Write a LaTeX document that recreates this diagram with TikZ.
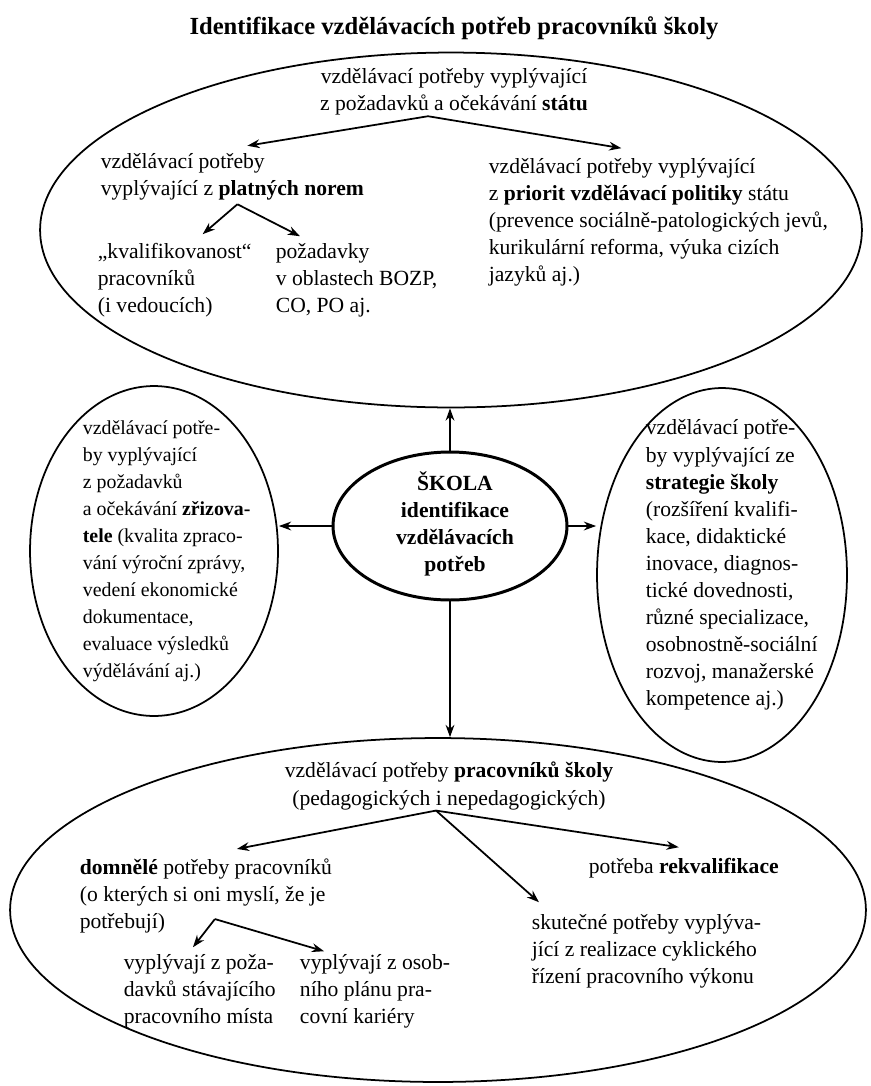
\documentclass[tikz,border=0pt]{standalone}
\usepackage{fontspec}
\setmainfont{Liberation Serif}
\usetikzlibrary{arrows.meta,positioning,shapes.geometric}

\begin{document}
\begin{tikzpicture}[
  x=0.02cm, y=-0.02cm,
  >={Stealth[length=7pt,width=5pt]},
  line width=1pt,
  oval/.style={ellipse, draw, line width=1pt, inner sep=0pt},
  hub/.style={ellipse, draw, line width=1.7pt, inner sep=0pt},
  note/.style={inner sep=0pt, align=left, anchor=west, font=\fontsize{12.3}{15.4}\selectfont},
  heading/.style={inner sep=0pt, align=center, font=\fontsize{12.3}{15.4}\selectfont},
  flow/.style={->, line width=1pt}
]
  \useasboundingbox (0,0) rectangle (870,1086);

  % title
  \node[inner sep=0pt, font=\fontsize{14}{17}\selectfont\bfseries] (title) at (454,28)
    {Identifikace vzdělávacích potřeb pracovníků školy};

  % ovals
  \node[oval, minimum width=16.44cm, minimum height=7.1cm] (stateOval) at (451,230) {};
  \node[oval, minimum width=4.96cm, minimum height=6.6cm] (founderOval) at (154,551) {};
  \node[hub, minimum width=4.68cm, minimum height=2.96cm] (hub) at (450,526) {};
  \node[oval, minimum width=5.0cm, minimum height=7.48cm] (strategyOval) at (722,575) {};
  \node[oval, minimum width=17.12cm, minimum height=6.88cm] (staffOval) at (438,910) {};

  % state
  \node[heading] (stateTop) at (454,92)
    {vzdělávací potřeby vyplývající\\z požadavků a očekávání \textbf{státu}};
  \node[note] (norms) at (100,177)
    {vzdělávací potřeby\\vyplývající z \textbf{platných norem}};
  \node[note] (qual) at (97,280)
    {„kvalifikovanost“\\pracovníků\\(i vedoucích)};
  \node[note] (bozp) at (275,280)
    {požadavky\\v oblastech BOZP,\\CO, PO aj.};
  \node[note] (polit) at (488,222)
    {vzdělávací potřeby vyplývající\\z \textbf{priorit vzdělávací politiky} státu\\(prevence sociálně-patologických jevů,\\kurikulární reforma, výuka cizích\\jazyků aj.)};

  % founder, school, strategy
  \node[note, font=\fontsize{11.3}{15.4}\selectfont] (founder) at (82,551)
    {vzdělávací potře-\\by vyplývající\\z požadavků\\a očekávání \textbf{zřizova-}\\\textbf{tele} (kvalita zpraco-\\vání výroční zprávy,\\vedení ekonomické\\dokumentace,\\evaluace výsledků\\výdělávání aj.)};
  \node[heading] (skola) at (455,524)
    {\textbf{ŠKOLA}\\\textbf{identifikace}\\\textbf{vzdělávacích}\\\textbf{potřeb}};
  \node[note] (strategy) at (645,565)
    {vzdělávací potře-\\by vyplývající ze\\\textbf{strategie školy}\\(rozšíření kvalifi-\\kace, didaktické\\inovace, diagnos-\\tické dovednosti,\\různé specializace,\\osobnostně-sociální\\rozvoj, manažerské\\kompetence aj.)};

  % staff
  \node[heading] (staff) at (449,786)
    {vzdělávací potřeby \textbf{pracovníků školy}\\(pedagogických i nepedagogických)};
  \node[note] (assumed) at (79,896)
    {\textbf{domnělé} potřeby pracovníků\\(o kterých si oni myslí, že je\\potřebují)};
  \node[note] (place) at (123,991)
    {vyplývají z poža-\\davků stávajícího\\pracovního místa};
  \node[note, right=0.45cm of place] (career)
    {vyplývají z osob-\\ního plánu pra-\\covní kariéry};
  \node[note] (requal) at (588,868)
    {potřeba \textbf{rekvalifikace}};
  \node[note] (real) at (531,951)
    {skutečné potřeby vyplýva-\\jící z realizace cyklického\\řízení pracovního výkonu};

  % connectors
  \draw[flow] (hub.north) -- (hub.north |- stateOval.south);
  \draw[flow] (hub.west) -- (hub.west -| founderOval.east);
  \draw[flow] (hub.east) -- (hub.east -| strategyOval.west);
  \draw[flow] (hub.south) -- (hub.south |- staffOval.north);

  \draw[flow] ([xshift=-0.52cm]stateTop.south) -- ([xshift=0.3cm,yshift=0.14cm]norms.north);
  \draw[flow] ([xshift=-0.52cm]stateTop.south) -- ([xshift=-0.74cm,yshift=0.18cm]polit.north);
  \draw[flow] ([xshift=0.1cm,yshift=-0.06cm]norms.south) -- ([xshift=0.56cm,yshift=0.16cm]qual.north);
  \draw[flow] ([xshift=0.1cm,yshift=-0.06cm]norms.south) -- ([xshift=0.5cm,yshift=0.12cm]bozp.north west);

  \draw[flow] ([xshift=-0.26cm]staff.south) -- ([xshift=0.62cm,yshift=0.18cm]assumed.north);
  \draw[flow] ([xshift=-0.26cm]staff.south) -- ([xshift=-0.1cm,yshift=0.2cm]requal.north);
  \draw[flow] ([xshift=-0.26cm]staff.south) -- ([xshift=0.16cm,yshift=0.22cm]real.north west);
  \draw[flow] ([xshift=0.18cm,yshift=0.3cm]assumed.south) -- ([xshift=1.4cm,yshift=0.12cm]place.north west);
  \draw[flow] ([xshift=0.18cm,yshift=0.3cm]assumed.south) -- ([xshift=0.5cm,yshift=0.04cm]career.north west);
\end{tikzpicture}
\end{document}
